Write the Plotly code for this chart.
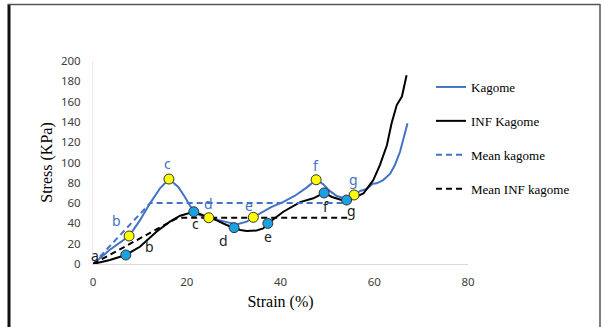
import plotly.graph_objects as go

# Kagome (blue) curve
kag_x = [0, 3.6, 7.7, 10, 12.2, 14.3, 16.2, 18.2, 19.6, 20.7, 21.4, 22.8, 24.7, 27.1, 30.6, 32.8, 34.2,
         36, 38, 40.5, 43, 45.5, 47.6, 49, 50.5, 52, 54.1, 55.7, 57, 58.4, 59.7, 60.5, 61.9, 63.4, 64.4,
         65.5, 66.6, 67.1]
kag_y = [0, 14, 27.6, 43, 60, 74.6, 83.7, 76, 66, 58, 52, 48, 45.6, 43, 39, 41.7, 46,
         51, 56, 61, 67, 75, 83, 79, 72, 67, 64, 68, 72, 74, 79, 79.5, 82.7, 89, 97.5,
         110.6, 130, 138.6]

# INF Kagome (black) curve
inf_x = [0, 3.6, 7, 10, 13.6, 16.4, 18.6, 20.7, 21.5, 23.5, 26.4, 28.5, 30.1, 31.4, 32.8, 34.9, 36.3,
         37.3, 40.6, 44.2, 47, 49.3, 51, 53, 54.1, 55.5, 57.7, 59.8, 61.2, 62.7, 63.7, 64.8, 65.9, 66.9]
inf_y = [0, 4, 8.9, 17, 32, 41.7, 47.6, 50, 51.5, 48, 43, 38.4, 35.8, 33.5, 32.5, 33, 35,
         40, 51.5, 61, 64.7, 70, 66, 63, 63, 65, 69.6, 82.7, 97.5, 117, 138.6, 156.6, 165, 186]

# Mean lines
mean_kag_x = [0, 12.2, 54.8]
mean_kag_y = [0, 60, 60]
mean_inf_x = [0, 18.1, 54.8]
mean_inf_y = [0, 45.6, 45.6]

# Marked points
kag_pts_x = [7.7, 16.2, 24.7, 34.2, 47.6, 55.7]
kag_pts_y = [27.6, 83.7, 45.6, 46, 83, 68]
inf_pts_x = [7, 21.5, 30.1, 37.3, 49.3, 54.1]
inf_pts_y = [8.9, 51.5, 35.8, 40, 70, 63]

# Point labels
kag_lab = ["b", "c", "d", "e", "f", "g"]
kag_lab_x = [5.1, 15.8, 24.6, 33.3, 47.6, 55.5]
kag_lab_y = [42.4, 99.5, 60, 58, 97.5, 83]
inf_lab = ["a", "b", "c", "d", "e", "f", "g"]
inf_lab_x = [0.4, 12, 21.8, 27.8, 37.4, 49.7, 55.2]
inf_lab_y = [8, 17, 40, 23.6, 27, 56.5, 53]

x_ticks = [0, 20, 40, 60, 80]
y_ticks = [0, 20, 40, 60, 80, 100, 120, 140, 160, 180, 200]

BLUE = "#4472C4"
BLACK = "#000000"

fig = go.Figure()
fig.add_trace(go.Scatter(x=kag_x, y=kag_y, mode="lines", name="Kagome",
                         line=dict(color=BLUE, width=2), legendgroup="g1"))
fig.add_trace(go.Scatter(x=inf_x, y=inf_y, mode="lines", name="INF Kagome",
                         line=dict(color=BLACK, width=2), legendgroup="g2"))
fig.add_trace(go.Scatter(x=mean_kag_x, y=mean_kag_y, mode="lines", name="Mean kagome",
                         line=dict(color=BLUE, width=2, dash="6px,4px"), legendgroup="g3"))
fig.add_trace(go.Scatter(x=mean_inf_x, y=mean_inf_y, mode="lines", name="Mean INF kagome",
                         line=dict(color=BLACK, width=2, dash="6px,4px"), legendgroup="g4"))
fig.add_trace(go.Scatter(x=kag_pts_x, y=kag_pts_y, mode="markers", showlegend=False,
                         marker=dict(color="#FFFF00", size=10, line=dict(color="#333333", width=1))))
fig.add_trace(go.Scatter(x=inf_pts_x, y=inf_pts_y, mode="markers", showlegend=False,
                         marker=dict(color="#1BA1E2", size=10, line=dict(color="#333333", width=1))))

annotations = []
for t, x, y in zip(kag_lab, kag_lab_x, kag_lab_y):
    annotations.append(dict(x=x, y=y, text=t, showarrow=False, xref="x", yref="y",
                            font=dict(family="Noto Sans", size=14, color=BLUE)))
for t, x, y in zip(inf_lab, inf_lab_x, inf_lab_y):
    annotations.append(dict(x=x, y=y, text=t, showarrow=False, xref="x", yref="y",
                            font=dict(family="Noto Sans", size=14, color="#222222")))

L, R, T, B = 93, 137, 61, 63
W, H = 605, 327
pw, ph = W - L - R, H - T - B

def px(xp):
    return (xp - L) / pw

def py(yp):
    return (H - B - yp) / ph

shapes = [
    dict(type="line", xref="paper", yref="paper", x0=px(9), x1=px(9), y0=py(4), y1=py(340),
         line=dict(color="#111111", width=3)),
    dict(type="line", xref="paper", yref="paper", x0=px(8), x1=px(600), y0=py(4.5), y1=py(4.5),
         line=dict(color="#555555", width=1.5)),
    dict(type="line", xref="paper", yref="paper", x0=px(600), x1=px(600), y0=py(4), y1=py(340),
         line=dict(color="#555555", width=1.5)),
]

fig.update_layout(
    width=W, height=H,
    margin=dict(l=L, r=R, t=T, b=B),
    paper_bgcolor="white", plot_bgcolor="white",
    showlegend=True,
    legend=dict(x=px(431), y=py(72), xanchor="left", yanchor="top",
                font=dict(family="Liberation Serif", size=13, color="#000000"),
                tracegroupgap=14, bgcolor="rgba(0,0,0,0)"),
    annotations=annotations,
    shapes=shapes,
    xaxis=dict(range=[0, 80], tickvals=x_ticks, showgrid=False, zeroline=False,
               showline=True, linecolor="#D9D9D9", linewidth=1, ticks="",
               ticklabelstandoff=7,
               tickfont=dict(family="Noto Sans", size=11.5, color="#404040"),
               title=dict(text="Strain (%)", font=dict(family="Liberation Serif", size=16, color="#000000"),
                          standoff=8)),
    yaxis=dict(range=[0, 200], tickvals=y_ticks, showgrid=False, zeroline=False,
               showline=True, linecolor="#EBEBEB", linewidth=1, ticks="",
               ticklabelstandoff=9,
               tickfont=dict(family="Noto Sans", size=11.5, color="#404040"),
               title=dict(text="Stress (KPa)", font=dict(family="Liberation Serif", size=16, color="#000000"),
                          standoff=4)),
)

fig.write_html("out.html")
